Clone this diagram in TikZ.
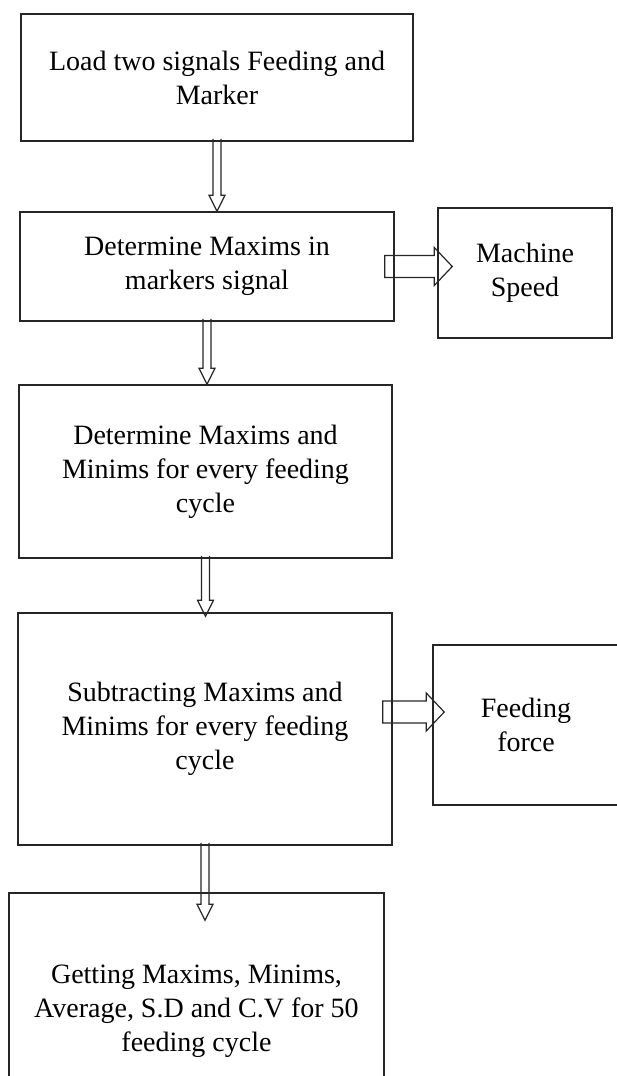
\documentclass[tikz,border=0pt]{standalone}
\usepackage{fontspec}
\setmainfont{Liberation Serif}
\usetikzlibrary{calc}

\tikzset{
  boite/.style={draw=black!85, line width=1.5pt, inner sep=0pt, align=center,
    font=\fontsize{28}{34}\selectfont},
  fleche/.style={draw=black!85, line width=1.2pt, line join=miter}
}

% fleche creuse vers le bas : source, cible, depassement
\newcommand{\flechebas}[3]{%
  \draw[fleche] ($(#1.south)+(-4,-3)$) -- ($(#1.south |- #2.north)+(-4,#3-16)$)
    -- ++(-4,0) -- ($(#1.south |- #2.north)+(0,#3)$) -- ++(8,-16) -- ++(-4,0)
    -- ($(#1.south)+(4,-3)$);}

% fleche creuse vers la droite : source, cible, decalage vertical, depassement
\newcommand{\flechedroite}[4]{%
  \draw[fleche] ($(#1.east)+(-10,#3-11)$) -- ($(#2.west |- #1.east)+(#4-18,#3-11)$)
    -- ++(0,-8) -- ($(#2.west |- #1.east)+(#4,#3)$) -- ++(-18,19) -- ++(0,-8)
    -- ($(#1.east)+(-10,#3+11)$) -- cycle;}

\begin{document}
\begin{tikzpicture}[x=1pt, y=-1pt]

\useasboundingbox (0,0) rectangle (617,1076);
\clip (0,0) rectangle (617,1076);

% Boites de gauche
\node[boite, minimum width=392pt, minimum height=127pt] (charge) at (217,77.5)
  {Load two signals Feeding and\\Marker};
\node[boite, minimum width=374pt, minimum height=109pt] (maxmark) at (207,266.5)
  {Determine Maxims in\\markers signal};
\node[boite, minimum width=373pt, minimum height=173pt] (maxmin) at (205.5,471.5)
  {Determine Maxims and\\Minims for every feeding\\cycle};
\node[boite, minimum width=374pt, minimum height=232pt] (soustr) at (205,729)
  {Subtracting Maxims and\\Minims for every feeding\\cycle};
\node[boite, minimum width=375pt, minimum height=236pt] (stats) at (196.5,1011)
  {Getting Maxims, Minims,\\Average, S.D and C.V for 50\\feeding cycle};

% Boites de droite
\node[boite, minimum width=174pt, minimum height=130pt] (vitesse) at (525,273)
  {Machine\\Speed};
\node[boite, minimum width=186pt, minimum height=160pt] (force) at (526,725)
  {Feeding\\force};

% Fleches
\flechebas{charge}{maxmark}{0}
\flechebas{maxmark}{maxmin}{0}
\flechebas{maxmin}{soustr}{4}
\flechebas{soustr}{stats}{28}
\flechedroite{maxmark}{vitesse}{0}{15}
\flechedroite{soustr}{force}{-17}{12}

\end{tikzpicture}
\end{document}
